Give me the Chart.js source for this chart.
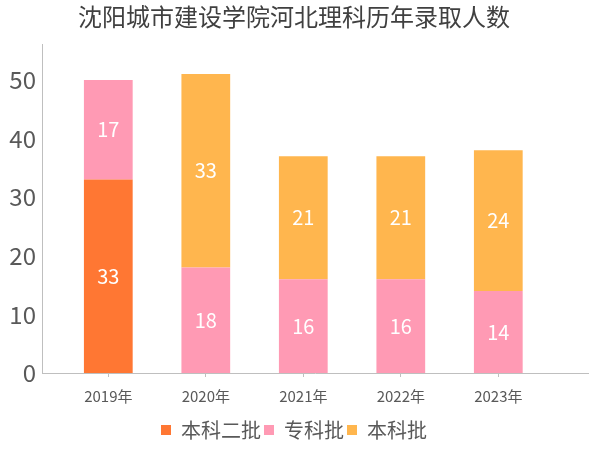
<!DOCTYPE html>
<html>
<head>
<meta charset="utf-8">
<script src="https://cdn.jsdelivr.net/npm/chart.js@4/dist/chart.umd.min.js"></script>
<style>
  html, body { margin: 0; padding: 0; background: #fff; }
  #wrap { width: 600px; height: 450px; }
</style>
</head>
<body>
<div id="wrap"><canvas id="chart" width="600" height="450"></canvas></div>
<script>
// Données du graphique
const years = ["2019年", "2020年", "2021年", "2022年", "2023年"];
const benke2 = [33, 0, 0, 0, 0];      // 本科二批
const zhuanke = [17, 18, 16, 16, 14]; // 专科批
const benke = [0, 33, 21, 21, 24];    // 本科批
const yTicks = [0, 10, 20, 30, 40, 50];

const FONT = "'Noto Sans CJK SC', 'Noto Sans', sans-serif";
const GREY = "#595959";

function toPoints(values) {
    return values.map((v, i) => ({ x: i, y: v }));
}

// Plugin pour écrire les valeurs au centre des barres
const valueLabels = {
    id: "valueLabels",
    afterDatasetsDraw(chart) {
        const ctx = chart.ctx;
        ctx.save();
        ctx.fillStyle = "#ffffff";
        ctx.font = "20px " + FONT;
        ctx.textAlign = "center";
        ctx.textBaseline = "middle";
        chart.data.datasets.forEach((ds, di) => {
            const meta = chart.getDatasetMeta(di);
            meta.data.forEach((bar, i) => {
                const v = ds.data[i].y;
                if (!v) return;
                const c = bar.getCenterPoint();
                ctx.fillText(String(v), c.x, c.y);
            });
        });
        ctx.restore();
    }
};

new Chart(document.getElementById("chart"), {
    type: "bar",
    data: {
        datasets: [
            { label: "本科二批", data: toPoints(benke2), backgroundColor: "#ff7733" },
            { label: "专科批", data: toPoints(zhuanke), backgroundColor: "#ff9ab4" },
            { label: "本科批", data: toPoints(benke), backgroundColor: "#ffb64e" }
        ]
    },
    options: {
        responsive: false,
        animation: false,
        layout: { padding: { left: 0, right: 12, top: 0, bottom: 0 } },
        datasets: {
            bar: { barPercentage: 0.5, categoryPercentage: 1 }
        },
        plugins: {
            title: {
                display: true,
                text: "沈阳城市建设学院河北理科历年录取人数",
                color: "#404040",
                font: { family: FONT, size: 24, weight: "normal" },
                padding: { top: 2, bottom: 14 }
            },
            legend: {
                position: "bottom",
                labels: {
                    color: GREY,
                    font: { family: FONT, size: 20 },
                    boxWidth: 10,
                    boxHeight: 10,
                    padding: 3
                }
            },
            tooltip: { enabled: false }
        },
        scales: {
            x: {
                type: "linear",
                stacked: true,
                offset: false,
                min: -0.68,
                max: 4.92,
                afterBuildTicks(scale) {
                    scale.ticks = years.map((_, i) => ({ value: i }));
                },
                afterFit(scale) { scale.height = 44; },
                ticks: {
                    color: GREY,
                    font: { family: FONT, size: 15 },
                    callback: (v) => years[v],
                    padding: 10
                },
                grid: { offset: false, drawOnChartArea: false, tickLength: 4, color: "#bfbfbf" },
                border: { color: "#bfbfbf" }
            },
            y: {
                stacked: true,
                min: 0,
                max: 56,
                afterBuildTicks(scale) {
                    scale.ticks = yTicks.map(v => ({ value: v }));
                },
                afterFit(scale) { scale.width = 42; },
                ticks: {
                    color: GREY,
                    font: { family: FONT, size: 24 },
                    padding: 6
                },
                grid: { display: false, drawTicks: false },
                border: { color: "#bfbfbf" }
            }
        }
    },
    plugins: [valueLabels]
});
</script>
</body>
</html>
